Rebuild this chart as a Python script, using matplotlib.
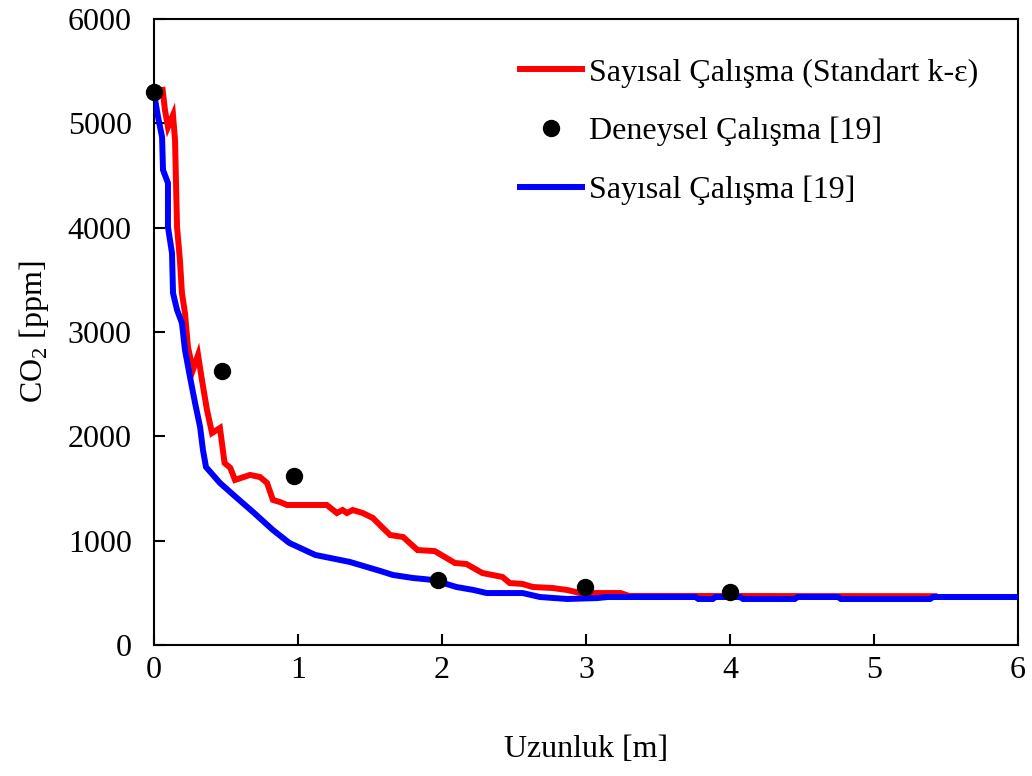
import matplotlib
matplotlib.use('Agg')
import matplotlib.pyplot as plt

# Sayisal calisma (Standart k-epsilon)
red_x = [0.06, 0.076, 0.097, 0.132, 0.146, 0.16, 0.18, 0.194, 0.215, 0.236,
         0.27, 0.306, 0.333, 0.368, 0.403, 0.458, 0.49, 0.53, 0.5625, 0.667,
         0.736, 0.785, 0.826, 0.875, 0.924, 1.2, 1.27, 1.31, 1.34, 1.38,
         1.45, 1.52, 1.59, 1.64, 1.73, 1.83, 1.95, 2.09, 2.17, 2.28,
         2.42, 2.47, 2.56, 2.63, 2.77, 2.87, 2.96, 3.24, 3.3, 5.42]
red_y = [5320, 5128, 4965, 5080, 4840, 4006, 3690, 3374, 3182, 2856,
         2636, 2780, 2540, 2252, 2032, 2080, 1745, 1697, 1582, 1630,
         1610, 1553, 1390, 1370, 1342, 1342, 1265, 1294, 1265, 1294,
         1265, 1217, 1121, 1054, 1035, 910, 900, 786, 776, 690,
         652, 594, 585, 556, 546, 527, 498, 498, 470, 468]

# Sayisal calisma [19]
blue_x = [0, 0.028, 0.056, 0.0625, 0.097, 0.097, 0.125, 0.132, 0.16, 0.194,
          0.215, 0.25, 0.285, 0.32, 0.34, 0.361, 0.458, 0.576, 0.6875, 0.826,
          0.94, 1.12, 1.36, 1.57, 1.66, 1.80, 1.94, 2.10, 2.22, 2.31,
          2.56, 2.68, 2.87, 3.08, 3.15, 3.76, 3.78, 3.88, 3.9, 4.07,
          4.09, 4.45, 4.47, 4.75, 4.77, 5.39, 5.41, 6.0]
blue_y = [5290, 5061, 4869, 4553, 4428, 4006, 3757, 3374, 3211, 3086,
          2828, 2569, 2320, 2090, 1869, 1706, 1553, 1409, 1275, 1102,
          978, 863, 796, 710, 671, 642, 623, 556, 527, 498,
          498, 460, 441, 450, 460, 460, 441, 441, 460, 460,
          441, 441, 460, 460, 441, 441, 460, 460]

# Deneysel calisma [19]
exp_x = [0, 0.47, 0.97, 1.97, 2.99, 4.0]
exp_y = [5300, 2626, 1620, 623, 556, 508]

x_ticks = [0, 1, 2, 3, 4, 5, 6]
y_ticks = [0, 1000, 2000, 3000, 4000, 5000, 6000]

plt.rcParams['font.family'] = ['Liberation Serif', 'DejaVu Serif']
plt.rcParams['mathtext.fontset'] = 'custom'
plt.rcParams['mathtext.rm'] = 'Liberation Serif'
plt.rcParams['font.size'] = 23

fig = plt.figure(figsize=(10.32, 7.76), dpi=100)
ax = fig.add_axes([154 / 1032, 1 - 645 / 776, (1018 - 154) / 1032, (645 - 19) / 776])

ax.plot(red_x, red_y, color='#ff0000', linewidth=4.3, solid_joinstyle='miter',
        label='Sayısal Çalışma (Standart k-ε)', zorder=2)
ax.plot(exp_x, exp_y, linestyle='none', marker='o', markersize=11.5, color='black',
        label='Deneysel Çalışma [19]', zorder=4, clip_on=False)
ax.plot(blue_x, blue_y, color='#0000ff', linewidth=4.3, solid_joinstyle='miter',
        label='Sayısal Çalışma [19]', zorder=3)

ax.set_xlim(0, 6)
ax.set_ylim(0, 6000)
ax.set_xticks(x_ticks)
ax.set_yticks(y_ticks)
ax.tick_params(axis='both', direction='in', length=8, width=1.5, color='black')
ax.tick_params(axis='y', pad=16)
ax.tick_params(axis='x', pad=8)
for s in ax.spines.values():
    s.set_linewidth(1.5)

ax.set_xlabel('Uzunluk [m]', labelpad=36)
ax.set_ylabel('CO$_\\mathregular{2}$ [ppm]', labelpad=12)

ax.legend(loc='upper left', bbox_to_anchor=(520 / 1032, 1 - 58 / 776),
          bbox_transform=fig.transFigure, frameon=False, borderpad=0,
          borderaxespad=0, handlelength=1.95, handletextpad=0.2,
          labelspacing=0.92, numpoints=1)

fig.savefig('out.png', dpi=100)
